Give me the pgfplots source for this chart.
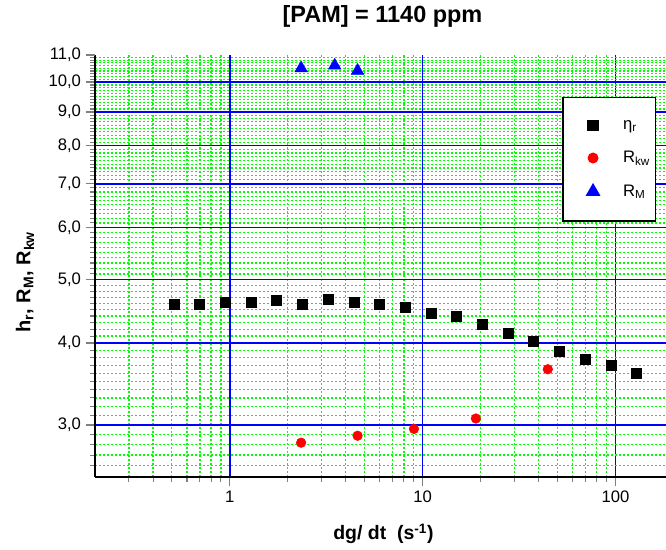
\documentclass[border=0pt]{standalone}
\usepackage{fontspec}
\setmainfont{Liberation Sans}
\usepackage{pgfplots}
\pgfplotsset{compat=1.18}
\definecolor{gridgreen}{RGB}{0,255,0}
\definecolor{gridblue}{RGB}{0,0,255}
\begin{document}
\begin{tikzpicture}
\begin{axis}[
  name=ax,
  scale only axis,
  width=428.25pt, height=316.5pt,
  xmode=log, ymode=log,
  xmin=0.2, xmax=183,
  ymin=2.5, ymax=11,
  axis x line*=bottom, axis y line*=left,
  axis line style={line width=1.3pt, black},
  xtick={1,10,100}, xticklabels={1,10,100},
  minor xtick={0.3,0.4,0.5,0.6,0.7,0.8,0.9,2,3,4,5,6,7,8,9,20,30,40,50,60,70,80,90},
  ytick={3,4,5,6,7,8,9,10},
  yticklabels={3{,}0,4{,}0,5{,}0,6{,}0,7{,}0,8{,}0,9{,}0,10{,}0},
  extra y ticks={11}, extra y tick labels={11{,}0},
  extra y tick style={grid=none},
  minor ytick={2.6,2.7,2.8,2.9,3.1,3.2,3.3,3.4,3.5,3.6,3.7,3.8,3.9,
    4.1,4.2,4.3,4.4,4.5,4.6,4.7,4.8,4.9,5.1,5.2,5.3,5.4,5.5,5.6,5.7,5.8,5.9,
    6.1,6.2,6.3,6.4,6.5,6.6,6.7,6.8,6.9,7.1,7.2,7.3,7.4,7.5,7.6,7.7,7.8,7.9,
    8.1,8.2,8.3,8.4,8.5,8.6,8.7,8.8,8.9,9.1,9.2,9.3,9.4,9.5,9.6,9.7,9.8,9.9,
    10.1,10.2,10.3,10.4,10.5,10.6,10.7,10.8,10.9},
  tick align=outside,
  major tick length=7pt, minor tick length=3.75pt,
  major tick style={line width=1pt},
  minor tick style={line width=0.8pt},
  grid=both,
  major grid style={color=gridblue, line width=1.15pt, solid},
  minor grid style={color=gridgreen, line width=0.9pt, dash pattern=on 1.5pt off 1.5pt},
  tick label style={font=\fontsize{12.5}{14}\selectfont},
  title={{[PAM] = 1140 ppm}},
  title style={font=\bfseries\fontsize{17.6}{20}\selectfont, at={(axis description cs:0.5035,1)}, anchor=base, yshift=18pt},
  xlabel={dg/ dt\ \ (s\textsuperscript{-1})},
  xlabel style={font=\bfseries\fontsize{14.6}{16}\selectfont, at={(axis description cs:0.5053,0)}, anchor=base, yshift=-47.25pt},
  ylabel={h\textsubscript{r}, R\textsubscript{M}, R\textsubscript{kw}},
  ylabel style={font=\bfseries\fontsize{15}{17}\selectfont, at={(axis description cs:-0.1226,0.462)}, anchor=center},
  legend image code/.code={\path[draw=none,fill=none] (-18.5pt,-4pt) rectangle (22.5pt,4pt); \draw[#1] plot coordinates {(0pt,0pt)};},
  legend style={at={(rel axis cs:0.9825,0.9005)}, anchor=north east, draw=black, line width=1pt, fill=white,
    font=\fontsize{12.5}{14}\selectfont, inner xsep=4pt, inner ysep=16pt, row sep=13pt,
    nodes={inner xsep=0pt, inner ysep=1pt}},
  legend cell align=left,
]
\addplot[only marks, mark=square*, mark size=3.75pt, black] coordinates {
(0.513,4.58) (0.697,4.59) (0.950,4.62) (1.285,4.62) (1.746,4.65) (2.372,4.59)
(3.235,4.67) (4.413,4.62) (5.966,4.59) (8.13,4.53) (11.03,4.45) (14.95,4.39)
(20.38,4.28) (27.70,4.14) (37.6,4.02) (51.3,3.89) (69.7,3.78) (94.7,3.70) (128.5,3.60)
};
\addplot[only marks, mark=*, mark size=3.6pt, red] coordinates {
(2.344,2.82) (4.60,2.89) (9.02,2.96) (18.9,3.07) (44.6,3.65)
};
\addplot[only marks, mark=triangle*, mark size=5.4pt, blue] coordinates {
(2.344,10.50) (3.50,10.60) (4.60,10.41)
};
\legend{η\textsubscript{r}, R\textsubscript{kw}, R\textsubscript{M}}
\end{axis}
\pgfresetboundingbox
\path[use as bounding box] ([shift={(-71.25pt,-54pt)}]ax.south west) rectangle ([shift={(0pt,41.25pt)}]ax.north east);
\end{tikzpicture}
\end{document}
